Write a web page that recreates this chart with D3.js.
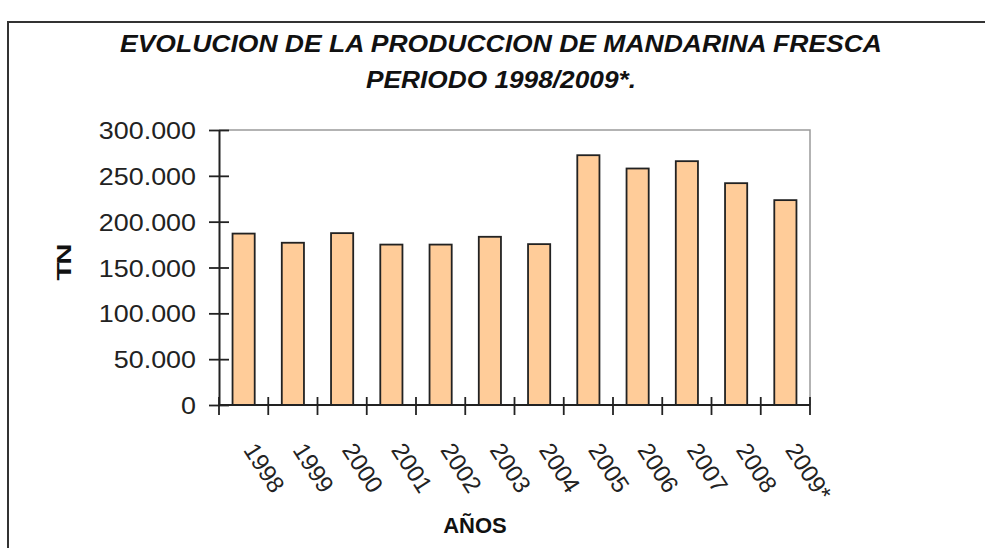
<!DOCTYPE html>
<html>
<head>
<meta charset="utf-8">
<script src="https://cdn.jsdelivr.net/npm/d3@7"></script>
<style>
  body { margin: 0; background: #fff; }
  text { font-family: "Liberation Sans", Arial, sans-serif; }
</style>
</head>
<body>
<div id="chart"></div>
<script>
// data (TN)
var years = ["1998", "1999", "2000", "2001", "2002", "2003", "2004", "2005", "2006", "2007", "2008", "2009*"];
var production = [187000, 177000, 187500, 175000, 175000, 183500, 175500, 272500, 258000, 266000, 242000, 223500];
var yTicks = [0, 50000, 100000, 150000, 200000, 250000, 300000];
var titleLines = ["EVOLUCION DE LA PRODUCCION DE MANDARINA FRESCA", "PERIODO 1998/2009*."];

var width = 985, height = 548;
var plotLeft = 219, plotRight = 810, plotTop = 130, plotBottom = 405;

var svg = d3.select("#chart").append("svg")
    .attr("width", width)
    .attr("height", height);

// outer frame (runs off the page right and bottom)
svg.append("path")
    .attr("d", "M8," + (height + 5) + "V22H" + (width + 5))
    .attr("fill", "none")
    .attr("stroke", "#333")
    .attr("stroke-width", 2);

// title, stretched a little like the scanned original
var titleWidths = [762, 270];
svg.selectAll(".title")
    .data(titleLines)
    .enter().append("text")
    .attr("class", "title")
    .attr("x", 501)
    .attr("y", function(d, i) { return 52 + i * 36; })
    .attr("text-anchor", "middle")
    .attr("font-size", 24)
    .attr("font-weight", "bold")
    .attr("font-style", "italic")
    .attr("fill", "#111")
    .text(function(d) { return d; })
    .attr("textLength", function(d, i) { return titleWidths[i]; })
    .attr("lengthAdjust", "spacingAndGlyphs");

var x = d3.scaleBand()
    .domain(years)
    .range([plotLeft, plotRight])
    .paddingInner(0.55)
    .paddingOuter(0.275);

var y = d3.scaleLinear()
    .domain([0, 300000])
    .range([plotBottom, plotTop]);

var locale = d3.formatLocale({ decimal: ",", thousands: ".", grouping: [3], currency: ["", ""] });
var fmt = locale.format(",d");

// plot area border (top and right, gray)
svg.append("path")
    .attr("d", "M" + plotLeft + "," + y(300000) + "H" + plotRight + "V" + plotBottom)
    .attr("fill", "none")
    .attr("stroke", "#9a9a9a")
    .attr("stroke-width", 1.5);

// bars
svg.selectAll(".bar")
    .data(production)
    .enter().append("rect")
    .attr("class", "bar")
    .attr("x", function(d, i) { return x(years[i]); })
    .attr("width", x.bandwidth())
    .attr("y", function(d) { return y(d); })
    .attr("height", function(d) { return y(0) - y(d); })
    .attr("fill", "#ffcc99")
    .attr("stroke", "#222")
    .attr("stroke-width", 1.8);

// y axis
var yAxis = svg.append("g")
    .attr("transform", "translate(" + plotLeft + ",0)")
    .call(d3.axisLeft(y).tickValues(yTicks).tickFormat(fmt).tickSize(10).tickSizeOuter(0).tickPadding(13));

yAxis.select(".domain").attr("stroke", "#222").attr("stroke-width", 2);
yAxis.selectAll(".tick line").attr("x1", 10).attr("stroke", "#222").attr("stroke-width", 1.8);
yAxis.selectAll(".tick text")
    .attr("font-size", 24)
    .attr("font-family", "'Liberation Sans', Arial, sans-serif")
    .attr("fill", "#222")
    .attr("dy", "0.36em")
    .attr("textLength", function() { return this.getComputedTextLength() * 1.12; })
    .attr("lengthAdjust", "spacingAndGlyphs");

// x axis line and category boundary ticks
svg.append("line")
    .attr("x1", plotLeft).attr("x2", plotRight)
    .attr("y1", y(0)).attr("y2", y(0))
    .attr("stroke", "#222")
    .attr("stroke-width", 2);

var bounds = d3.range(years.length + 1).map(function(i) { return x.range()[0] + i * x.step(); });
svg.selectAll(".xtick")
    .data(bounds)
    .enter().append("line")
    .attr("class", "xtick")
    .attr("x1", function(d) { return d; })
    .attr("x2", function(d) { return d; })
    .attr("y1", y(0) - 8)
    .attr("y2", y(0) + 10)
    .attr("stroke", "#222")
    .attr("stroke-width", 1.8);

// rotated year labels
svg.selectAll(".xlabel")
    .data(years)
    .enter().append("text")
    .attr("class", "xlabel")
    .attr("transform", function(d) {
        return "translate(" + (x(d) + x.bandwidth() / 2 - 1) + "," + (y(0) + 45) + ") rotate(57)";
    })
    .attr("font-size", 24)
    .attr("fill", "#222")
    .text(function(d) { return d; });

// axis titles
svg.append("text")
    .attr("x", 475)
    .attr("y", 533)
    .attr("text-anchor", "middle")
    .attr("font-size", 22)
    .attr("font-weight", "bold")
    .attr("fill", "#111")
    .text("AÑOS");

svg.append("text")
    .attr("transform", "translate(71,263) rotate(-90) scale(1.4,1)")
    .attr("text-anchor", "middle")
    .attr("font-size", 21)
    .attr("font-weight", "bold")
    .attr("letter-spacing", -1.5)
    .attr("fill", "#111")
    .text("TN");
</script>
</body>
</html>
